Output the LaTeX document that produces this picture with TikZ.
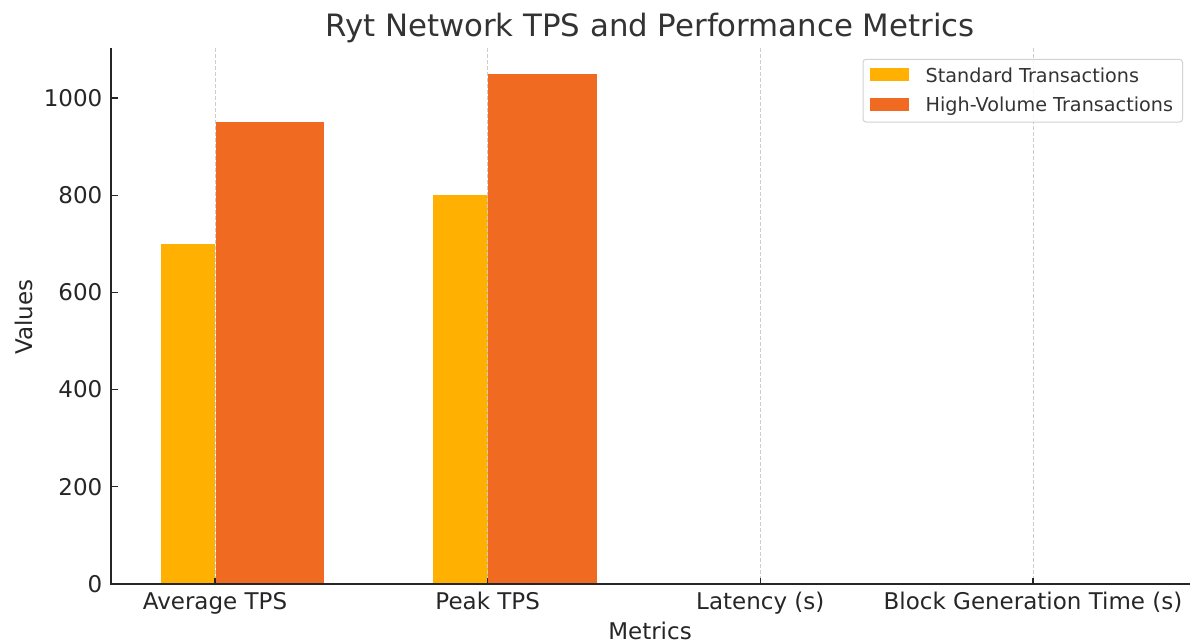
\documentclass[tikz,border=0pt]{standalone}
\usepackage{fontspec}
\setmainfont{DejaVu Sans}
\definecolor{stdc}{RGB}{255,176,0}
\definecolor{hvc}{RGB}{240,106,34}
\definecolor{txt}{RGB}{38,38,38}
\definecolor{ttl}{RGB}{51,51,51}
\definecolor{gridc}{RGB}{205,205,205}
\definecolor{legc}{RGB}{210,210,210}
\begin{document}
\begin{tikzpicture}[x=1pt,y=-1pt,
  ticklab/.style={text=txt,font=\fontsize{23}{23}\selectfont,inner sep=0pt},
  leglab/.style={text=ttl,font=\fontsize{19.2}{19.2}\selectfont,inner sep=0pt,anchor=base west},
  gridline/.style={gridc,line width=0.8pt,dash pattern=on 4pt off 2pt},
  spine/.style={txt,line width=1.6pt},
  tickmark/.style={txt,line width=1.2pt}]
\useasboundingbox (0,0) rectangle (1193,641);
% gridlines
\foreach \cx in {215,487.7,760.3,1033} {
  \draw[gridline] (\cx,48) -- (\cx,584);
}
% bars: Average TPS
\fill[stdc] (160.5,584) rectangle (215,243.8);
\fill[hvc] (215.5,584) rectangle (324,122.3);
% bars: Peak TPS
\fill[stdc] (433.2,584) rectangle (487.7,195.2);
\fill[hvc] (488.2,584) rectangle (596.8,73.7);
% gridline over bar boundaries
\draw[gridline] (215,48) -- (215,584);
\draw[gridline] (487.7,48) -- (487.7,584);
% spines
\draw[spine] (111,48) -- (111,584) -- (1190,584);
% y ticks
\foreach \v/\py in {0/584,200/486.8,400/389.6,600/292.4,800/195.2,1000/98} {
  \draw[tickmark] (111,\py) -- (117.5,\py);
  \node[ticklab,anchor=east] (y\v) at (102.5,\py) {\v};
}
% x ticks
\foreach \cx/\lab/\nm in {215/Average TPS/xa,487.7/Peak TPS/xb,760.3/Latency (s)/xc,1033/Block Generation Time (s)/xd} {
  \draw[tickmark] (\cx,584) -- (\cx,577.5);
  \node[ticklab,anchor=base] (\nm) at (\cx,609.5) {\lab};
}
% axis labels
\node[ticklab,anchor=base] (xlabel) at (650,639) {Metrics};
\node[ticklab,rotate=90,anchor=center] (ylabel) at (24,317) {Values};
% title
\node[text=ttl,font=\fontsize{30.8}{30.8}\selectfont,inner sep=0pt,anchor=base] (title) at (650,36.5) {Ryt Network TPS and Performance Metrics};
% legend
\draw[legc,fill=white,fill opacity=0.8,line width=1pt,rounded corners=3pt] (863,59.3) rectangle (1182.5,122);
\fill[stdc] (870,68.3) rectangle (909,81);
\fill[hvc] (870,97.7) rectangle (909,110.7);
\node[leglab] (leg1) at (925.5,82) {Standard Transactions};
\node[leglab] (leg2) at (925.5,111.5) {High-Volume Transactions};
\end{tikzpicture}
\end{document}
